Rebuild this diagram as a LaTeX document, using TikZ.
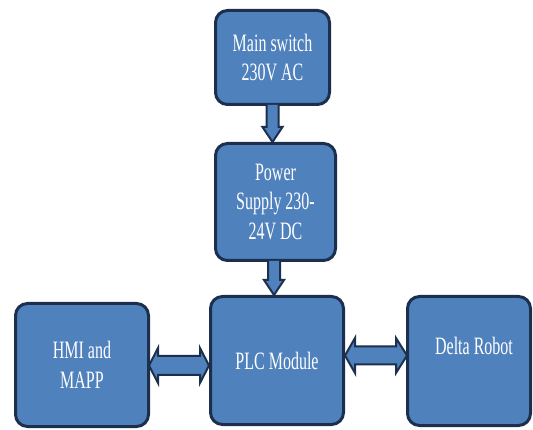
\documentclass[tikz,border=0pt]{standalone}
\usepackage{fontspec}
\setmainfont{Liberation Serif}[FakeStretch=0.64]
\usetikzlibrary{calc}
\definecolor{boxfill}{RGB}{79,129,189}
\definecolor{boxline}{RGB}{28,48,78}
\tikzset{
  blk/.style={draw=boxline, fill=boxfill, line width=3pt, rounded corners=12pt,
    inner sep=0pt, text=white, font=\fontsize{25}{29.5}\selectfont, align=center},
  barrow/.style={draw=boxline, fill=boxfill, line width=2pt, line join=miter}
}
\begin{document}
\begin{tikzpicture}[x=1pt,y=-1pt]
\useasboundingbox (0,0) rectangle (533,430);
\node[blk, minimum width=114pt, minimum height=94pt] (main) at (272.5,57.5) {Main switch\\230V AC};
\node[blk, minimum width=120pt, minimum height=117pt] (power) at (275.5,202) {Power\\Supply 230-\\24V DC};
\node[blk, minimum width=133pt, minimum height=123pt] (hmi) at (82,365) {HMI and\\MAPP};
\node[blk, minimum width=133pt, minimum height=128pt] (plc) at (277,360.5) {PLC Module};
\node[blk, minimum width=123pt, minimum height=129pt] (delta) at (469,361) {\hspace*{10pt}Delta Robot\\ \mbox{}};
% down arrows
\draw[barrow] let \p1=(main.south), \p2=(power.north) in
  (\x1-6pt,\y1+1pt) -- (\x1-6pt,\y2+15pt) -- (\x1-10pt,\y2+15pt) -- (\x1,\y2) --
  (\x1+10pt,\y2+15pt) -- (\x1+6pt,\y2+15pt) -- (\x1+6pt,\y1+1pt);
\draw[barrow] let \p1=(power.south), \p2=(plc.north) in
  (\x1-7.5pt,\y1+1pt) -- (\x1-7.5pt,\y2+15pt) -- (\x1-11.5pt,\y2+15pt) -- (\x1-1.5pt,\y2) --
  (\x1+8.5pt,\y2+15pt) -- (\x1+4.5pt,\y2+15pt) -- (\x1+4.5pt,\y1+1pt);
% double arrows
\draw[barrow] let \p1=(hmi.east), \p2=(plc.west), \n1={\y1-0.5pt} in
  (\x1-1pt,\n1) -- (\x1+8pt,\n1+17.5pt) -- (\x1+8pt,\n1+9.5pt) -- (\x2-9pt,\n1+9.5pt) --
  (\x2-9pt,\n1+17.5pt) -- (\x2,\n1) -- (\x2-9pt,\n1-17.5pt) -- (\x2-9pt,\n1-9.5pt) --
  (\x1+8pt,\n1-9.5pt) -- (\x1+8pt,\n1-17.5pt) -- cycle;
\draw[barrow] let \p1=(plc.east), \p2=(delta.west), \n1={\y2+5.5pt} in
  (\x1,\n1) -- (\x1+10pt,\n1+17.5pt) -- (\x1+10pt,\n1+9pt) -- (\x2-10pt,\n1+9pt) --
  (\x2-10pt,\n1+17.5pt) -- (\x2+1pt,\n1) -- (\x2-10pt,\n1-17.5pt) -- (\x2-10pt,\n1-9pt) --
  (\x1+10pt,\n1-9pt) -- (\x1+10pt,\n1-17.5pt) -- cycle;
\end{tikzpicture}
\end{document}
